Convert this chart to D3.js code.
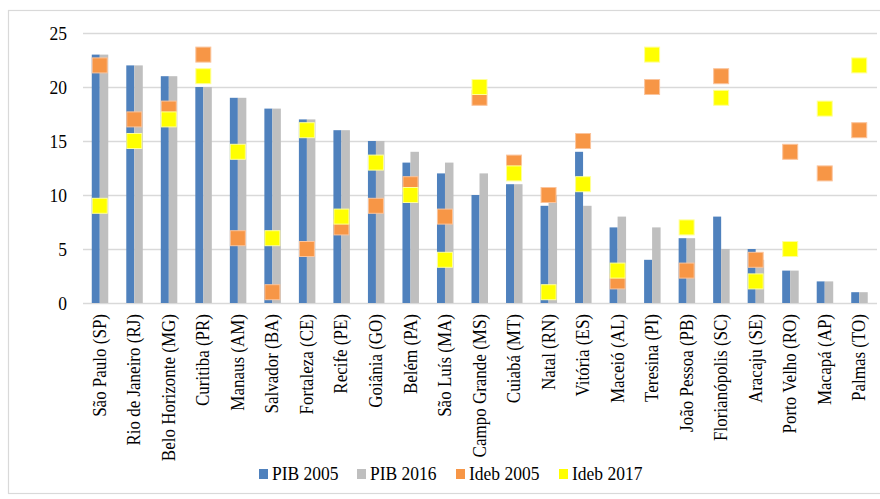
<!DOCTYPE html>
<html>
<head>
<meta charset="utf-8">
<script src="https://cdn.jsdelivr.net/npm/d3@7"></script>
<style>
  body { margin: 0; background: #fff; }
  svg { display: block; font-family: "Liberation Serif", "Times New Roman", Times, serif; }
</style>
</head>
<body>
<svg id="chart" width="880" height="499"></svg>
<script>
const cities = [
  'São Paulo (SP)', 'Rio de Janeiro (RJ)', 'Belo Horizonte (MG)', 'Curitiba (PR)',
  'Manaus (AM)', 'Salvador (BA)', 'Fortaleza (CE)', 'Recife (PE)', 'Goiânia (GO)',
  'Belém (PA)', 'São Luís (MA)', 'Campo Grande (MS)', 'Cuiabá (MT)', 'Natal (RN)',
  'Vitória (ES)', 'Maceió (AL)', 'Teresina (PI)', 'João Pessoa (PB)',
  'Florianópolis (SC)', 'Aracaju (SE)', 'Porto Velho (RO)', 'Macapá (AP)', 'Palmas (TO)'
];
const pib2005 = [23, 22, 21, 20, 19, 18, 17, 16, 15, 13, 12, 10, 11, 9, 14, 7, 4, 6, 8, 5, 3, 2, 1];
const pib2016 = [23, 22, 21, 20, 19, 18, 17, 16, 15, 14, 13, 12, 11, 10, 9, 8, 7, 6, 5, 4, 3, 2, 1];
const ideb2005 = [22, 17, 18, 23, 6, 1, 5, 7, 9, 11, 8, 19, 13, 10, 15, 2, 20, 3, 21, 4, 14, 12, 16];
const ideb2017 = [9, 15, 17, 21, 14, 6, 16, 8, 13, 10, 4, 20, 12, 1, 11, 3, 23, 7, 19, 2, 5, 18, 22];
const yTicks = [0, 5, 10, 15, 20, 25];

const series = [
  { name: 'PIB 2005', color: '#4f81bd' },
  { name: 'PIB 2016', color: '#bfbfbf' },
  { name: 'Ideb 2005', color: '#f79646' },
  { name: 'Ideb 2017', color: '#ffff00' }
];

const svg = d3.select('#chart');
const plot = { left: 83, right: 877, top: 33, bottom: 303 };
const serif = '"Liberation Serif", "Times New Roman", Times, serif';

// outer frame
svg.append('rect')
  .attr('x', 8.5).attr('y', 10.5)
  .attr('width', 880).attr('height', 483)
  .attr('fill', 'none').attr('stroke', '#d9d9d9').attr('stroke-width', 1.2);

const x = d3.scaleBand().domain(cities).range([plot.left, plot.right]);
const y = d3.scaleLinear().domain([0, 25]).range([plot.bottom, plot.top]);

// y axis + gridlines
const yAxis = svg.append('g')
  .attr('transform', `translate(${plot.left},0)`)
  .call(d3.axisLeft(y).tickValues(yTicks).tickSize(-(plot.right - plot.left)).tickPadding(16));
yAxis.select('.domain').remove();
yAxis.selectAll('.tick line').attr('stroke', '#d9d9d9').attr('stroke-width', 1.6);
yAxis.selectAll('.tick text')
  .attr('font-family', serif)
  .attr('font-size', 17.5).attr('fill', '#000')
  .attr('transform', 'scale(1,1.1)');

const barW = 8;
const cx = (d) => x(d) + x.bandwidth() / 2 - 0.5;

// bars
const bars = svg.append('g');
bars.selectAll('.b05').data(cities).join('rect')
  .attr('class', 'b05')
  .attr('x', (d) => cx(d) - barW)
  .attr('y', (d, i) => y(pib2005[i]))
  .attr('width', barW)
  .attr('height', (d, i) => y(0) - y(pib2005[i]))
  .attr('fill', series[0].color);
bars.selectAll('.b16').data(cities).join('rect')
  .attr('class', 'b16')
  .attr('x', (d) => cx(d))
  .attr('y', (d, i) => y(pib2016[i]))
  .attr('width', barW + 0.5)
  .attr('height', (d, i) => y(0) - y(pib2016[i]))
  .attr('fill', series[1].color);

// markers (yellow drawn over orange, as in the original)
const mk = 15;
const drawMarkers = (vals, color, stroke) => {
  svg.append('g').selectAll('rect').data(cities).join('rect')
    .attr('x', (d) => cx(d) - mk / 2)
    .attr('y', (d, i) => y(vals[i]) - mk / 2)
    .attr('width', mk).attr('height', mk)
    .attr('fill', color)
    .attr('stroke', stroke).attr('stroke-width', 1);
};
drawMarkers(ideb2005, series[2].color, '#fbc49c');
drawMarkers(ideb2017, series[3].color, '#ffff99');

// category labels
const xAxis = svg.append('g')
  .attr('transform', `translate(0,${plot.bottom})`)
  .call(d3.axisBottom(x).tickSize(0));
xAxis.select('.domain').remove();
xAxis.selectAll('.tick').attr('transform', (d) => `translate(${cx(d)},0)`);
xAxis.selectAll('.tick text')
  .attr('transform', 'rotate(-90) scale(1,1.12)')
  .attr('x', -11).attr('y', 5.4).attr('dy', 0)
  .attr('text-anchor', 'end')
  .attr('font-family', serif)
  .attr('font-size', 17).attr('fill', '#000');

// legend
const legendX = [259, 357, 456, 559];
const legend = svg.append('g');
series.forEach((s, i) => {
  legend.append('rect')
    .attr('x', legendX[i]).attr('y', 469)
    .attr('width', 9).attr('height', 10)
    .attr('fill', s.color);
  legend.append('text')
    .attr('transform', `translate(${legendX[i] + 13},480) scale(1,1.07)`)
    .attr('font-family', serif)
    .attr('font-size', 17.5).attr('fill', '#000')
    .text(s.name);
});
</script>
</body>
</html>
